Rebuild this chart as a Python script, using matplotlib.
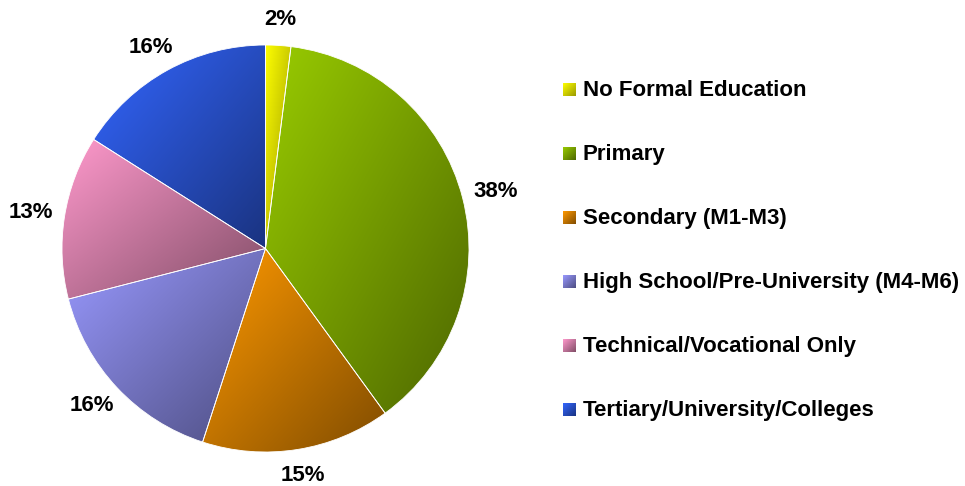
import numpy as np
import matplotlib
matplotlib.use("Agg")
from matplotlib import pyplot as plt
from matplotlib.patches import Rectangle
from matplotlib.colors import LinearSegmentedColormap

# -- Data -------------------------------------------------------------------
categories = [
    "No Formal Education",
    "Primary",
    "Secondary (M1-M3)",
    "High School/Pre-University (M4-M6)",
    "Technical/Vocational Only",
    "Tertiary/University/Colleges",
]
shares = [2, 38, 15, 16, 13, 16]

light_colors = ["#FFFF00", "#99CC00", "#FF9900", "#9999FF", "#FF99CC", "#3366FF"]
dark_colors = ["#999900", "#4D6600", "#804C00", "#4D4D80", "#804D66", "#1A3380"]

plt.rcParams["font.family"] = ["Liberation Sans", "DejaVu Sans"]

W, H = 965, 486
fig = plt.figure(figsize=(W / 100, H / 100), dpi=100)
ax = fig.add_axes([0, 0, 1, 1])

# pie in pixel coordinates (y measured from bottom)
cx, cy, r = 265.5, H - 248.5, 203.5

wedges, _, pct_texts = ax.pie(
    shares, center=(cx, cy), radius=r, startangle=90, counterclock=False,
    autopct="%1.0f%%", pctdistance=1.15, frame=True,
    textprops=dict(fontsize=16, fontweight="bold", color="black"),
    wedgeprops=dict(linewidth=0.6, edgecolor="white"),
)
ax.set_xlim(0, W)
ax.set_ylim(0, H)
ax.set_aspect("equal")
ax.axis("off")


def grad_fill(patch, c_light, c_dark, zorder=1):
    # diagonal gradient: light at top-left, dark at bottom-right
    bb = patch.get_path().transformed(patch.get_patch_transform()).get_extents()
    n = 200
    xs = np.linspace(0, 1, n)
    gx, gy = np.meshgrid(xs, xs)
    t = (gx + gy) / 2  # row 0 is top with origin="upper"
    cmap = LinearSegmentedColormap.from_list("g", [c_light, c_dark])
    im = ax.imshow(t, cmap=cmap, vmin=0, vmax=1, origin="upper",
                   extent=(bb.x0, bb.x1, bb.y0, bb.y1),
                   interpolation="bilinear", zorder=zorder)
    im.set_clip_path(patch)
    return im


for w, cl, cd in zip(wedges, light_colors, dark_colors):
    w.set_facecolor("none")
    w.set_zorder(2)
    grad_fill(w, cl, cd)

# Excel style label placement: box sits just outside the rim
gap = 13
renderer = fig.canvas.get_renderer()
for w, t in zip(wedges, pct_texts):
    ang = np.deg2rad((w.theta1 + w.theta2) / 2)
    c, s = np.cos(ang), np.sin(ang)
    t.set_ha("center")
    t.set_va("center")
    bb = t.get_window_extent(renderer)
    tw, th = bb.width * 0.95, bb.height * 1.25
    t.set_position((cx + c * (r + gap) + c * tw / 2,
                    cy + s * (r + gap) + s * th / 2))

# -- Legend (manual, gradient squares) --------------------------------------
leg_x = 563
leg_base0 = 96
leg_step = 64
sq = 13
for i, (lab, cl, cd) in enumerate(zip(categories, light_colors, dark_colors)):
    yb = H - (leg_base0 + i * leg_step)
    box = Rectangle((leg_x, yb), sq, sq, facecolor="none",
                    edgecolor="none", zorder=3)
    ax.add_patch(box)
    grad_fill(box, cl, cd, zorder=2)
    ax.text(leg_x + 20, yb, lab, fontsize=16, fontweight="bold",
            va="baseline", ha="left")

ax.set_xlim(0, W)
ax.set_ylim(0, H)
ax.set_aspect("equal")
ax.axis("off")

fig.savefig("out.png", dpi=100)
